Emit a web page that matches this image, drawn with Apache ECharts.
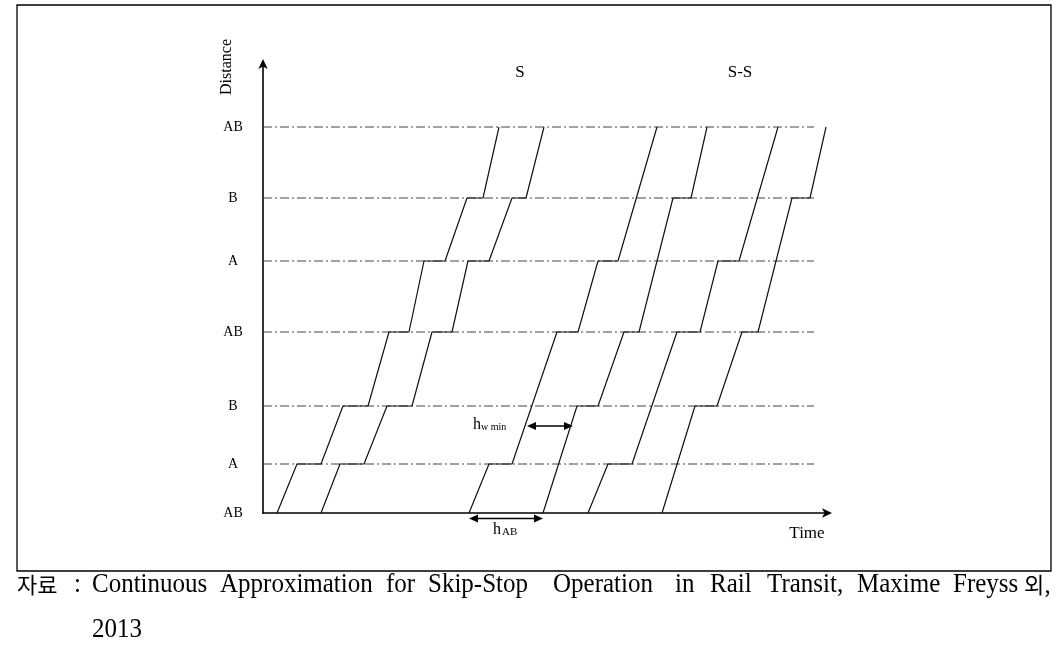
<!DOCTYPE html>
<html><head><meta charset="utf-8">
<script src="https://cdn.jsdelivr.net/npm/echarts@6/dist/echarts.min.js"></script>
<style>html,body{margin:0;padding:0;background:#fff}#c{width:1060px;height:657px}</style>
</head><body><div id="c"></div>
<script>
// Station axis (distance units, bottom station at 0)
const stationLabels = ['AB', 'A', 'B', 'AB', 'A', 'B', 'AB'];
const stationDist = [0, 49, 107, 181, 252, 315, 386];
const guideEnd = 551;           // time where the dash-dot guide lines stop
const timeMax = 566;
const distMax = 451;

// Train trajectories: [time, distance]
const train1 = [[14,0],[34,49],[58,49],[80,107],[105,107],[126,181],[146,181],[161,252],[182,252],[204,315],[220,315],[236,386]];
const train2 = [[58,0],[77,49],[101,49],[124,107],[149,107],[169,181],[189,181],[205,252],[226,252],[249,315],[263,315],[281,386]];
const train3 = [[206,0],[226,49],[249,49],[294,181],[315,181],[335,252],[355,252],[394,386]];
const train4 = [[280,0],[314,107],[335,107],[361,181],[376,181],[410,315],[428,315],[444,386]];
const train5 = [[325,0],[345,49],[369,49],[414,181],[437,181],[455,252],[476,252],[515,386]];
const train6 = [[399,0],[432,107],[454,107],[479,181],[495,181],[529,315],[547,315],[563,386]];
const trains = [train1, train2, train3, train4, train5, train6];

// Headway annotations: [timeFrom, timeTo, distance]
const hwMin = [264, 310, 87];
const hAB = [206, 280];

const footerWords = [
  ['자료', 17, 'k'], [':', 74, 's'], ['Continuous', 92, 's'], ['Approximation', 220, 's'],
  ['for', 386, 's'], ['Skip-Stop', 428, 's'], ['Operation', 553, 's'], ['in', 675, 's'],
  ['Rail', 710, 's'], ['Transit,', 767, 's'], ['Maxime', 857, 's'], ['Freyss', 953, 's'], ['외,', 1024, 'k']
];

const SERIF = '"Liberation Serif", "Times New Roman", serif';
const chart = echarts.init(document.getElementById('c'), null, {renderer: 'canvas'});

const series = [];
stationDist.forEach((d, i) => {
  if (i === 0) return;
  series.push({
    type: 'line', silent: true, symbol: 'none',
    data: [[0, d], [guideEnd, d]],
    lineStyle: {color: '#444', width: 1, type: [9, 3, 2, 3]},
    z: 1
  });
});
trains.forEach(t => {
  series.push({
    type: 'line', silent: true, symbol: 'none', data: t,
    lineStyle: {color: '#111', width: 1.2}, z: 3
  });
});

chart.setOption({
  animation: false,
  backgroundColor: '#fff',
  grid: {left: 263, right: 1060 - 829, top: 62, bottom: 144, outerBoundsMode: 'none'},
  xAxis: {
    type: 'value', min: 0, max: timeMax,
    axisLine: {show: true, onZero: false, symbol: ['none', 'arrow'], symbolSize: [7, 10],
      symbolOffset: [0, 3], lineStyle: {color: '#000', width: 1.6}},
    axisTick: {show: false}, axisLabel: {show: false}, splitLine: {show: false}
  },
  yAxis: {
    type: 'value', min: 0, max: distMax,
    axisLine: {show: true, symbol: ['none', 'arrow'], symbolSize: [7, 10],
      symbolOffset: [0, 3], lineStyle: {color: '#000', width: 1.6}},
    axisTick: {show: false},
    axisLabel: {
      show: true, customValues: stationDist, align: 'center', margin: 30,
      fontFamily: SERIF, fontSize: 14, color: '#000',
      formatter: v => stationLabels[stationDist.indexOf(v)]
    },
    splitLine: {show: false}
  },
  series: series
});

function px(t, d) { return chart.convertToPixel({gridIndex: 0}, [t, d]); }
function dblArrow(x1, x2, y) {
  return [
    {type: 'line', shape: {x1: x1 + 6, y1: y, x2: x2 - 6, y2: y}, style: {stroke: '#000', lineWidth: 1.6}},
    {type: 'polygon', shape: {points: [[x1, y], [x1 + 9, y - 4], [x1 + 9, y + 4]]}, style: {fill: '#000'}},
    {type: 'polygon', shape: {points: [[x2, y], [x2 - 9, y - 4], [x2 - 9, y + 4]]}, style: {fill: '#000'}}
  ];
}
function txt(s, x, y, size, opts) {
  return Object.assign({type: 'text', x: x, y: y, style: Object.assign({
    text: s, fontFamily: SERIF, fontSize: size, fill: '#000',
    textAlign: 'center', textVerticalAlign: 'middle'}, (opts && opts.style) || {})},
    opts && opts.el || {});
}

const g = [];
// border
g.push({type: 'rect', shape: {x: 17, y: 5, width: 1034, height: 566},
  style: {fill: 'none', stroke: '#000', lineWidth: 1.3}, z: 0});

const a1 = px(hwMin[0], hwMin[2]), a2 = px(hwMin[1], hwMin[2]);
dblArrow(a1[0], a2[0], a1[1]).forEach(e => g.push(e));
const b1 = px(hAB[0], 0), b2 = px(hAB[1], 0);
dblArrow(b1[0], b2[0], b1[1] + 5.5).forEach(e => g.push(e));

g.push(txt('h', 473, 425, 16, {style: {textAlign: 'left'}}));
g.push(txt('w min', 481, 427.5, 10, {style: {textAlign: 'left'}}));
g.push(txt('h', 493, 530, 16, {style: {textAlign: 'left'}}));
g.push(txt('AB', 502, 532.5, 11, {style: {textAlign: 'left'}}));

g.push(txt('S', 520, 73, 17));
g.push(txt('S-S', 740, 73, 17));
g.push(txt('Time', 807, 534, 17));
g.push(txt('Distance', 227, 67, 16, {el: {rotation: Math.PI / 2}}));

footerWords.forEach(w => {
  const k = w[2] === 'k';
  g.push(txt(w[0], w[1], 585, k ? 22 : 25, {style: {textAlign: 'left',
    fontFamily: k ? '"Noto Sans CJK KR", sans-serif' : SERIF},
    el: {scaleY: k ? 1 : 1.1, originX: 0, originY: 0}}));
});
g.push(txt('2013', 92, 630, 25, {style: {textAlign: 'left'}, el: {scaleY: 1.1, originX: 0, originY: 0}}));

chart.setOption({graphic: {elements: g}});
</script>
</body></html>
